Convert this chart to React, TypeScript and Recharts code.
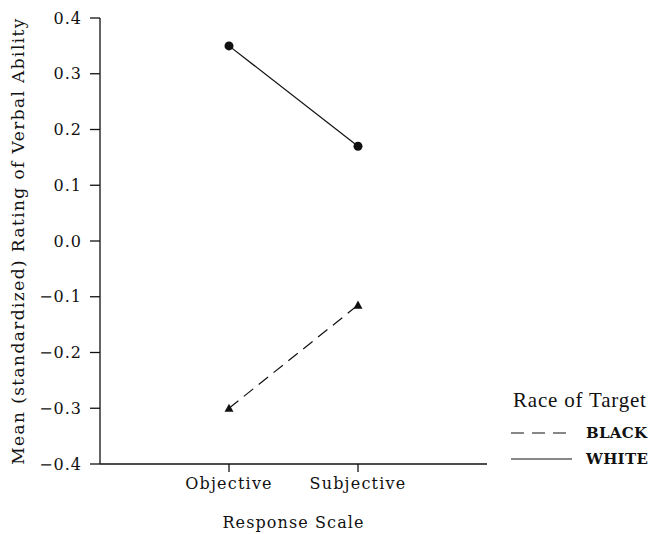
import React from 'react';
import { LineChart, Line, XAxis, YAxis, Label } from 'recharts';

const CATEGORIES = ['Objective', 'Subjective'];
const WHITE_MEANS = [0.35, 0.17];
const BLACK_MEANS = [-0.3, -0.115];
const Y_TICKS = [-0.4, -0.3, -0.2, -0.1, 0.0, 0.1, 0.2, 0.3, 0.4];
const LEGEND_ITEMS = [
  { label: 'BLACK', dash: '13 8' },
  { label: 'WHITE', dash: undefined },
];

const data = CATEGORIES.map((name, i) => ({
  x: i + 1,
  name,
  white: WHITE_MEANS[i],
  black: BLACK_MEANS[i],
}));

const FONT = '"DejaVu Serif", serif';
const INK = '#111';

const Triangle = (props: any) => {
  const { cx, cy } = props;
  if (cx == null || cy == null) return null;
  const s = 4.5;
  return <path d={`M${cx},${cy - s} L${cx + s},${cy + s * 0.8} L${cx - s},${cy + s * 0.8} Z`} fill={INK} />;
};

// legend drawn as an overlay so it doesn't eat into the plot height
const LegendBox = () => (
  <div style={{ position: 'absolute', left: 510, top: 388, color: INK }}>
    <div style={{ fontFamily: '"Liberation Serif", serif', fontSize: 21, letterSpacing: 0.8, marginLeft: 3, height: 32 }}>
      Race of Target
    </div>
    {LEGEND_ITEMS.map((e) => (
      <div key={e.label} style={{ display: 'flex', alignItems: 'center', height: 26 }}>
        <svg width={64} height={10} style={{ marginRight: 12 }}>
          <line x1={1} y1={5} x2={62} y2={5} stroke={INK} strokeWidth={1.2} strokeDasharray={e.dash} />
        </svg>
        <span style={{ fontFamily: FONT, fontSize: 15, fontWeight: 'bold', letterSpacing: 0.3 }}>{e.label}</span>
      </div>
    ))}
  </div>
);

export default function App() {
  return (
    <div style={{ position: 'absolute', left: 0, top: 0, width: 649, height: 534, background: '#fff' }}>
      <LineChart width={649} height={534} data={data} margin={{ top: 18, right: 162, left: 0, bottom: 0 }}>
        <XAxis
          dataKey="x"
          type="number"
          domain={[0, 3]}
          ticks={[1, 2]}
          tickFormatter={(v: number) => CATEGORIES[v - 1]}
          height={70}
          tickSize={8}
          tickMargin={6}
          stroke={INK}
          strokeWidth={1.3}
          tick={{ fill: INK, fontFamily: FONT, fontSize: 16, letterSpacing: 1.2 }}
        >
          <Label
            value="Response Scale"
            position="insideBottom"
            offset={6}
            fill={INK}
            fontFamily={FONT}
            fontSize={16}
            letterSpacing={1.1}
          />
        </XAxis>
        <YAxis
          type="number"
          domain={[-0.4, 0.4]}
          ticks={Y_TICKS}
          tickFormatter={(v: number) => v.toFixed(1).replace('-', '\u2212')}
          width={100}
          tickSize={10}
          tickMargin={8}
          stroke={INK}
          strokeWidth={1.3}
          tick={{ fill: INK, fontFamily: FONT, fontSize: 16, letterSpacing: 1 }}
        >
          <Label
            value="Mean (standardized) Rating of Verbal Ability"
            angle={-90}
            position="insideLeft"
            offset={18}
            style={{ textAnchor: 'middle' }}
            fill={INK}
            fontFamily={FONT}
            fontSize={17}
            letterSpacing={1.4}
          />
        </YAxis>
        <Line
          dataKey="white"
          stroke={INK}
          strokeWidth={1.2}
          dot={{ r: 4.5, fill: INK, stroke: INK, strokeWidth: 0 }}
          isAnimationActive={false}
        />
        <Line
          dataKey="black"
          stroke={INK}
          strokeWidth={1.2}
          strokeDasharray="12 7"
          dot={<Triangle />}
          isAnimationActive={false}
        />
      </LineChart>
      <LegendBox />
    </div>
  );
}
